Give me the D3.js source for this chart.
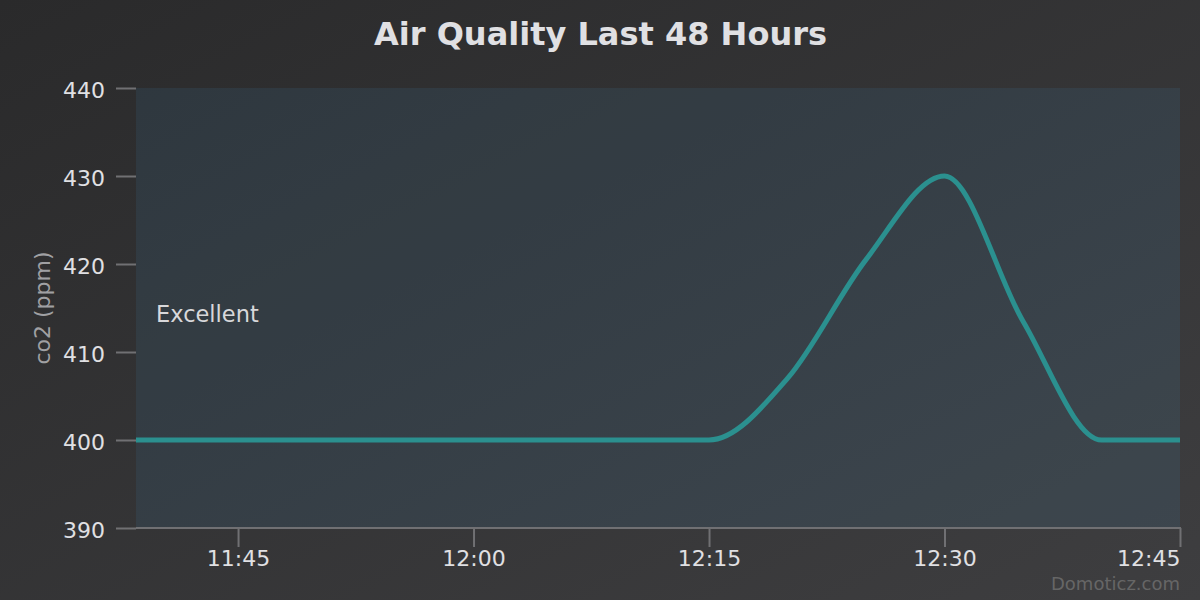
<!DOCTYPE html>
<html>
<head>
<meta charset="utf-8">
<script src="https://cdn.jsdelivr.net/npm/d3@7"></script>
<style>
  html, body { margin: 0; padding: 0; background: #2a2a2b; }
  svg { display: block; }
  text { font-family: "DejaVu Sans", sans-serif; }
</style>
</head>
<body>
<svg id="chart" width="1200" height="600"></svg>
<script>
// ---- data ----
const title = "Air Quality Last 48 Hours";
const yAxisTitle = "co2 (ppm)";
const bandLabel = "Excellent";
const credit = "Domoticz.com";
const times = ["11:38:30","11:40","11:45","11:50","11:55","12:00","12:05","12:10","12:15","12:20","12:25","12:30","12:35","12:40","12:45"];
const co2 = [400,400,400,400,400,400,400,400,400,407,420.5,430,413.5,400,400];
const yTicks = [390,400,410,420,430,440];
const xTickLabels = ["11:45","12:00","12:15","12:30","12:45"];

// ---- setup ----
const parse = s => {
  const p = s.split(":").map(Number);
  return new Date(2020, 0, 1, p[0], p[1], p[2] || 0);
};
const data = times.map((t, i) => ({ t: parse(t), v: co2[i] }));
const W = 1200, H = 600;
const plot = { left: 136, right: 1180, top: 88, bottom: 528 };

const svg = d3.select("#chart");
const defs = svg.append("defs");
const bg = defs.append("linearGradient").attr("id", "bg")
  .attr("x1", 0).attr("y1", 0).attr("x2", 1).attr("y2", 1);
bg.append("stop").attr("offset", 0).attr("stop-color", "#2a2a2b");
bg.append("stop").attr("offset", 1).attr("stop-color", "#3e3e40");
svg.append("rect").attr("width", W).attr("height", H).attr("fill", "url(#bg)");

const x = d3.scaleTime()
  .domain([data[0].t, data[data.length - 1].t])
  .range([plot.left, plot.right]);
const y = d3.scaleLinear()
  .domain([yTicks[0], yTicks[yTicks.length - 1]])
  .range([plot.bottom, plot.top]);

// plot band
svg.append("rect")
  .attr("x", plot.left).attr("y", plot.top)
  .attr("width", plot.right - plot.left).attr("height", plot.bottom - plot.top)
  .attr("fill", "rgb(70,160,215)").attr("fill-opacity", 0.1);

svg.append("text")
  .attr("x", plot.left + 20).attr("y", 321.5)
  .attr("fill", "#d8d8da").attr("font-size", 22.5)
  .text(bandLabel);

// title
svg.append("text")
  .attr("x", 600.5).attr("y", 45)
  .attr("text-anchor", "middle")
  .attr("fill", "#e0e0e3").attr("font-size", 32).attr("font-weight", "bold")
  .text(title);

// y axis
const yAxis = d3.axisLeft(y).tickValues(yTicks).tickSize(20).tickPadding(11)
  .tickFormat(d3.format("d"));
const yg = svg.append("g").attr("transform", `translate(${plot.left},0)`).call(yAxis);
yg.select(".domain").remove();
yg.selectAll(".tick line").attr("stroke", "#707073").attr("stroke-width", 2);
yg.selectAll(".tick text").attr("fill", "#e0e0e3").attr("font-size", 22)
  .attr("font-family", "DejaVu Sans").attr("dy", "0.43em");

svg.append("text")
  .attr("transform", `translate(50,${(plot.top + plot.bottom) / 2}) rotate(-90)`)
  .attr("text-anchor", "middle")
  .attr("fill", "#a0a0a3").attr("font-size", 22)
  .text(yAxisTitle);

// x axis
const xTickVals = xTickLabels.map(parse);
const xAxis = d3.axisBottom(x).tickValues(xTickVals).tickSize(19).tickPadding(3.5)
  .tickFormat(d3.timeFormat("%H:%M")).tickSizeOuter(0);
const xg = svg.append("g").attr("transform", `translate(0,${plot.bottom})`).call(xAxis);
xg.select(".domain").attr("stroke", "#707073").attr("stroke-width", 2)
  .attr("d", `M${plot.left},0H${plot.right + 1}`);
xg.selectAll(".tick line").attr("stroke", "#707073").attr("stroke-width", 2);
xg.selectAll(".tick text").attr("fill", "#e0e0e3").attr("font-size", 22)
  .attr("font-family", "DejaVu Sans")
  .attr("text-anchor", (d, i) => i === xTickVals.length - 1 ? "end" : "middle");

// line
const line = d3.line().x(d => x(d.t)).y(d => y(d.v)).curve(d3.curveMonotoneX);
svg.append("path").datum(data)
  .attr("d", line)
  .attr("fill", "none")
  .attr("stroke", "#2b908f").attr("stroke-width", 5)
  .attr("stroke-linejoin", "round").attr("stroke-linecap", "butt");

// credit
svg.append("text")
  .attr("x", 1180).attr("y", 590)
  .attr("text-anchor", "end")
  .attr("fill", "#666666").attr("font-size", 18)
  .text(credit);
</script>
</body>
</html>
